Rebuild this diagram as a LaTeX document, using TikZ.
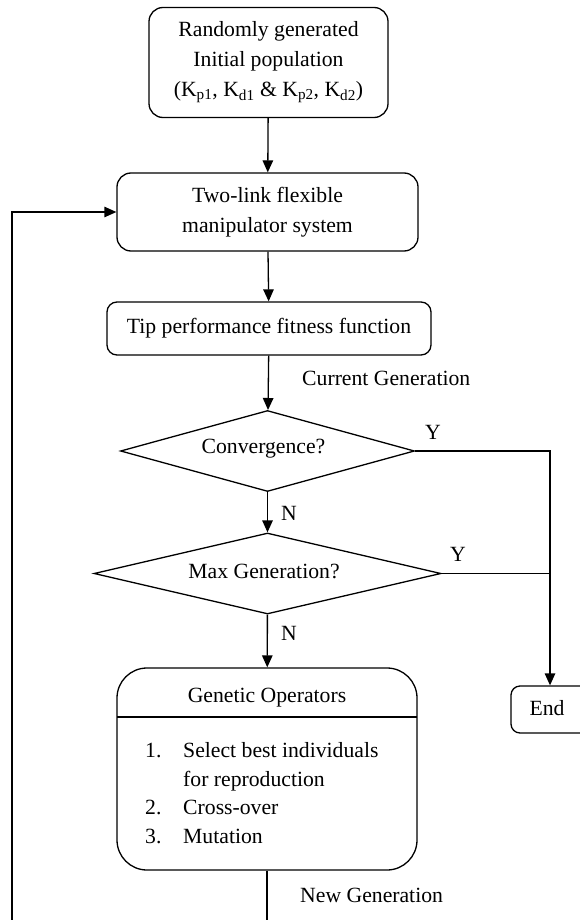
\documentclass[tikz,border=0pt]{standalone}
\usepackage{fontspec}
\setmainfont{Liberation Serif}
\usetikzlibrary{shapes.geometric,arrows.meta}
\begin{document}
\begin{tikzpicture}[x=1pt,y=-1pt,
  every node/.style={font=\fontsize{21.7}{29.5}\selectfont},
  box/.style={draw,line width=1.3pt,rounded corners=14pt,align=center,inner sep=0pt},
  dia/.style={draw,line width=1.3pt,diamond,inner sep=0pt,shape aspect=4},
  lbl/.style={inner sep=0pt},
  line/.style={line width=1.3pt},
  arr/.style={line width=1.3pt,-{Triangle[length=12pt,width=10.5pt]}}]
\useasboundingbox (0,0) rectangle (580,920);
\clip (0,0) rectangle (580,920);
\node[box,minimum width=239pt,minimum height=110pt,font=\fontsize{21.7}{30}\selectfont] (b1) at (268.5,62.5)
  {Randomly generated\\Initial population\\(K\textsubscript{p1}, K\textsubscript{d1} \& K\textsubscript{p2}, K\textsubscript{d2})};
\node[box,minimum width=301pt,minimum height=78pt] (b2) at (267.5,212)
  {Two-link flexible\\manipulator system};
\node[box,minimum width=324pt,minimum height=53pt,rounded corners=10pt] (b3) at (269,328.5)
  {Tip performance fitness function};
\node[dia,minimum width=294pt,minimum height=81pt] (d1) at (267.5,451) {};
\node[lbl] (t1) at (263.5,449) {Convergence?};
\node[dia,minimum width=347pt,minimum height=81pt] (d2) at (267.5,573.5) {};
\node[lbl] (t2) at (264,571) {Max Generation?};
\node[draw,line width=1.3pt,rounded corners=30pt,minimum width=300pt,minimum height=202pt,inner sep=0pt] (gen) at (267,769) {};
\coordinate (hl) at (117,717);
\coordinate (hr) at (417,717);
\draw[line] (hl) -- (hr);
\node[lbl] (gt) at (267,698) {Genetic Operators};
\node[lbl,anchor=base west] (n1) at (145,757) {1.};
\node[lbl,anchor=base west] (i1) at (183,757) {Select best individuals};
\node[lbl,anchor=base west] (i1b) at (183,786) {for reproduction};
\node[lbl,anchor=base west] (n2) at (145,814.5) {2.};
\node[lbl,anchor=base west] (i2) at (183,814.5) {Cross-over};
\node[lbl,anchor=base west] (n3) at (145,843) {3.};
\node[lbl,anchor=base west] (i3) at (183,843) {Mutation};
\node[box,rounded corners=9pt,minimum width=78pt,minimum height=47pt] (end) at (550,709.5) {};
\node[lbl] (et) at (547,708) {End};
% labels
\node[lbl,anchor=west] (cg) at (302,378) {Current Generation};
\node[lbl,anchor=west] (ng) at (300,895) {New Generation};
\node[lbl] (y1) at (433,432) {Y};
\node[lbl] (y2) at (458,554) {Y};
\node[lbl] (n1l) at (289,513) {N};
\node[lbl] (n2l) at (289,633) {N};
% connectors
\coordinate (rc1) at (550,451);
\coordinate (rc2) at (550,573.5);
\coordinate (bot) at (267,935);
\coordinate (lft) at (12,935);
\draw[arr] (b1) -- (b2);
\draw[arr] (b2) -- (b3);
\draw[arr] (b3) -- (d1);
\draw[arr] (d1) -- (d2);
\draw[arr] (d2) -- (gen);
\draw[arr] (d1.east) -- (rc1) -- (end.north);
\draw[line] (d2.east) -- (rc2);
\draw[arr] (gen.south) -- (bot) -- (lft) |- (b2.west);
\end{tikzpicture}
\end{document}
